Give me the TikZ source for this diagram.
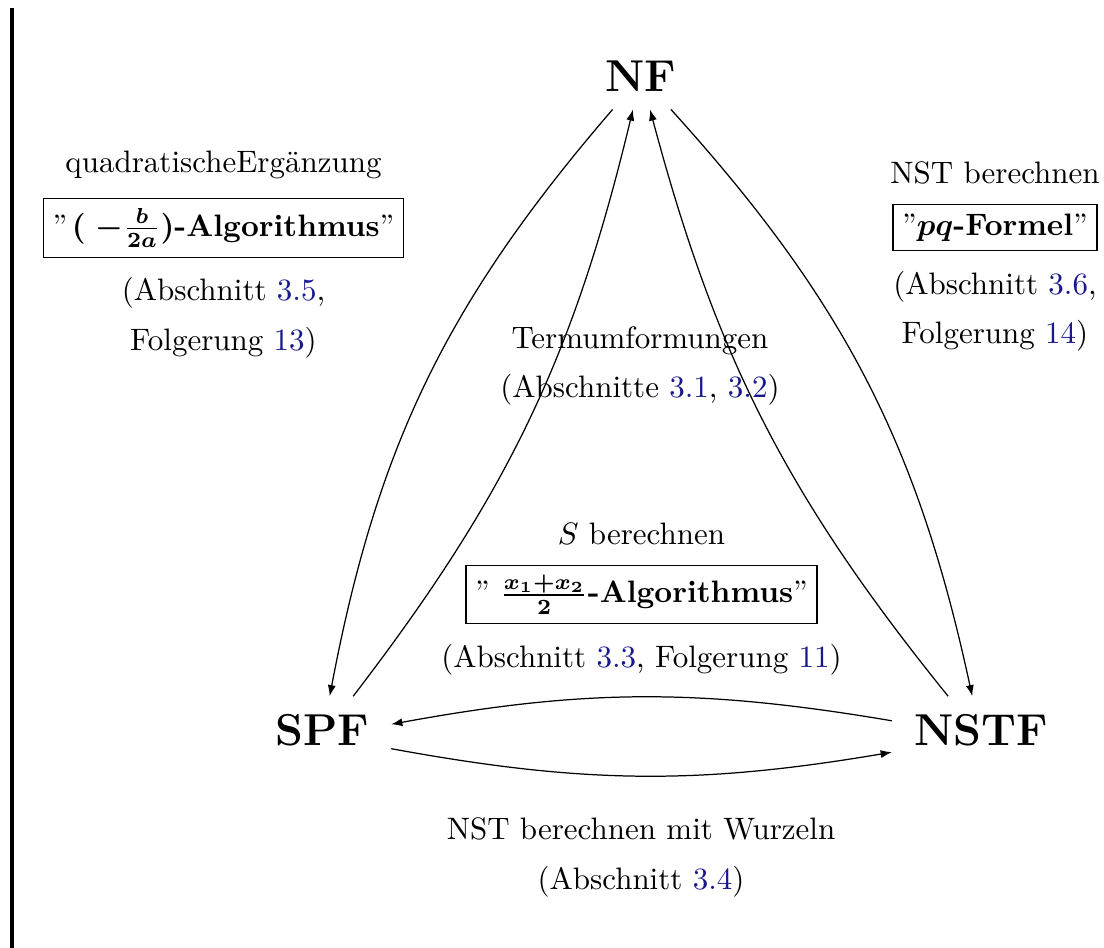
\documentclass[tikz,border=0pt]{standalone}
\usepackage{amsmath}
\usetikzlibrary{arrows.meta,positioning}
\definecolor{refblue}{rgb}{0.1,0.1,0.55}
\newcommand{\refnr}[1]{\textcolor{refblue}{#1}}

\begin{document}
\begin{tikzpicture}
		\tikzset{form/.style={font=\Large\bfseries,inner xsep=7pt,inner ysep=5.5pt},
			algo/.style={draw,inner sep=3pt},
			info/.style={align=center},
			pfeil/.style={-{Latex[length=3.6pt,width=2.6pt]}}}

		\useasboundingbox (0,0) rectangle (12.517,-10.748);
		\draw [line width=1.3pt] (0.136,-0.09) -- (0.136,-10.748);

		\node [form] (NF) at (7.268,-0.867) {NF};
		\node [form,text depth=4.5pt] (SPF) at (3.651,-8.35) {SPF};
		\node [form,text depth=4.5pt] (NSTF) at (11.122,-8.35) {NSTF};

		\node [algo] (qebox) at (2.534,-2.585) {''\kern1.5pt\textbf{\boldmath$(\;-\frac{b}{2a})$-Algorithmus}''};
		\node [above=2.8pt of qebox] (qe) {quadratischeErgänzung};
		\node [info,below=2.8pt of qebox] (qeref) {(Abschnitt \refnr{3.5},\\[4pt]Folgerung \refnr{13})};

		\node [algo] (pqbox) at (11.281,-2.579) {''\textbf{\boldmath$pq$-Formel}''};
		\node [above=2.8pt of pqbox] (pq) {NST berechnen};
		\node [info,below=2.8pt of pqbox] (pqref) {(Abschnitt \refnr{3.6},\\[4pt]Folgerung \refnr{14})};

		\node [info] (term) at (7.256,-4.151) {Termumformungen\\[4pt](Abschnitte \refnr{3.1}, \refnr{3.2})};

		\node [algo] (sbox) at (7.273,-6.74) {'' \textbf{\boldmath$\frac{x_1+x_2}{2}$-Algorithmus}''};
		\node [above=2.8pt of sbox] (sb) {$S$ berechnen};
		\node [below=2.8pt of sbox] (sref) {(Abschnitt \refnr{3.3}, Folgerung \refnr{11})};

		\node [info] (wurzel) at (7.268,-9.724) {NST berechnen mit Wurzeln\\[4pt](Abschnitt \refnr{3.4})};

		\draw [pfeil] (NF) to [bend right=15] (SPF);
		\draw [pfeil] (SPF) to [bend right=12] (NF);
		\draw [pfeil] (NF) to [bend left=15] (NSTF);
		\draw [pfeil] (NSTF) to [bend left=12] (NF);
		\draw [pfeil] (NSTF) to [bend right=10] (SPF);
		\draw [pfeil] (SPF) to [bend right=10] (NSTF);
	\end{tikzpicture}
\end{document}
